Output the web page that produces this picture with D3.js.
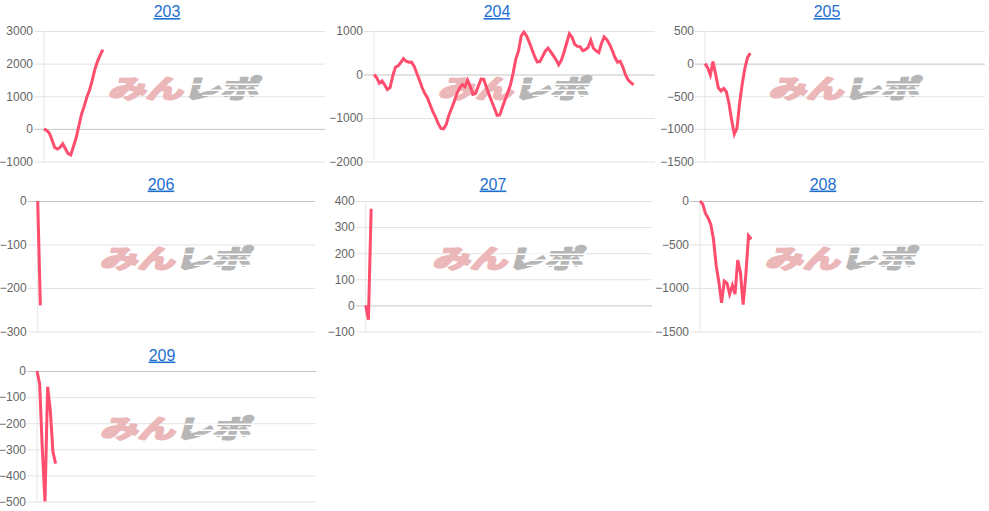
<!DOCTYPE html>
<html>
<head>
<meta charset="utf-8">
<script src="https://cdn.jsdelivr.net/npm/d3@7"></script>
<style>
  body { margin: 0; background: #fff; }
  svg { display: block; font-family: Arial, "Liberation Sans", sans-serif; }
</style>
</head>
<body>
<div id="chart"></div>
<script>
// cumulative balance per game, one list per machine
const v203 = [0, -50, -130, -340, -570, -620, -570, -460, -610, -760, -800, -540, -280, 80, 440, 690, 970, 1180, 1480, 1820, 2070, 2260, 2430];
const v204 = [0, -73, -198, -149, -240, -347, -303, -38, 168, 198, 275, 366, 305, 282, 285, 189, 27, -130, -305, -437,
  -540, -702, -855, -977, -1130, -1240, -1248, -1145, -935, -775, -618, -435, -313, -234, -282, -130, -282, -455, -431, -263,
  -104, -107, -290, -463, -622, -776, -939, -931, -748, -578, -415, -237, 38, 359, 542, 885, 974, 889, 744, 580,
  415, 292, 298, 418, 536, 608, 527, 435, 341, 224, 326, 511, 725, 935, 855, 695, 646, 641, 547, 570,
  622, 786, 603, 544, 504, 714, 866, 803, 698, 557, 395, 285, 305, 168, -11, -130, -188, -235];
const v205 = [0, -62, -175, 30, -165, -370, -420, -380, -430, -610, -870, -1080, -990, -600, -300, -60, 100, 160];
const v206 = [0, -240];
const v207 = [0, -55, 370];
const v208 = [0, -35, -140, -195, -268, -440, -740, -930, -1170, -920, -945, -1070, -970, -1070, -680, -820, -1190, -850, -400, -440];
const v209 = [0, -50, -300, -500, -60, -150, -310, -355];

const ticks203 = [-1000, 0, 1000, 2000, 3000];
const ticks204 = [-2000, -1000, 0, 1000];
const ticks205 = [-1500, -1000, -500, 0, 500];
const ticks206 = [-300, -200, -100, 0];
const ticks207 = [-100, 0, 100, 200, 300, 400];
const ticks208 = [-1500, -1000, -500, 0];
const ticks209 = [-500, -400, -300, -200, -100, 0];

const titles = ["203", "204", "205", "206", "207", "208", "209"];
const X_MAX = 105;

const charts = [
  { title: titles[0], values: v203, ticks: ticks203 },
  { title: titles[1], values: v204, ticks: ticks204 },
  { title: titles[2], values: v205, ticks: ticks205 },
  { title: titles[3], values: v206, ticks: ticks206 },
  { title: titles[4], values: v207, ticks: ticks207 },
  { title: titles[5], values: v208, ticks: ticks208 },
  { title: titles[6], values: v209, ticks: ticks209 },
];

// panel placement
const layout = [
  { x0: 0,   y0: 0,   left: 44,   right: 325, titleX: 167, titleY: 17 },
  { x0: 330, y0: 0,   left: 44,   right: 325, titleX: 167, titleY: 17 },
  { x0: 660, y0: 0,   left: 45,   right: 325, titleX: 167, titleY: 17 },
  { x0: 0,   y0: 170, left: 37.7, right: 315, titleX: 161, titleY: 19.5 },
  { x0: 330, y0: 170, left: 35.7, right: 322, titleX: 163, titleY: 19.5 },
  { x0: 660, y0: 170, left: 40,   right: 323, titleX: 163, titleY: 19.5 },
  { x0: 0,   y0: 340, left: 37,   right: 316, titleX: 162, titleY: 20.5 },
];

const svg = d3.select("#chart").append("svg")
  .attr("width", 989)
  .attr("height", 511);

charts.forEach((c, i) => {
  const L = layout[i];
  const top = 31, bottom = 161.5;
  const g = svg.append("g").attr("transform", `translate(${L.x0},${L.y0})`);

  const x = d3.scaleLinear().domain([0, X_MAX]).range([L.left, L.right]);
  const y = d3.scaleLinear().domain(d3.extent(c.ticks)).range([bottom, top]);

  // title link
  g.append("text")
    .attr("x", L.titleX)
    .attr("y", L.titleY)
    .attr("text-anchor", "middle")
    .attr("fill", "#1e6fd0")
    .style("font-size", "16px")
    .style("text-decoration", "underline")
    .text(c.title);

  // y axis with gridlines
  const axis = g.append("g")
    .attr("transform", `translate(${L.left - 10},0)`)
    .call(d3.axisLeft(y)
      .tickValues(c.ticks)
      .tickFormat(d3.format("d"))
      .tickSizeInner(-(L.right - L.left + 10))
      .tickSizeOuter(0)
      .tickPadding(1));
  axis.select(".domain").remove();
  axis.selectAll(".tick line").attr("stroke", (d) => (d === 0 ? "#c4c4c4" : "#e3e3e3"));
  axis.selectAll(".tick text")
    .attr("fill", "#666")
    .style("font-size", "12px")
    .style("font-family", "Arial, 'Liberation Sans', sans-serif");

  g.append("line")
    .attr("x1", L.left).attr("x2", L.left)
    .attr("y1", top).attr("y2", bottom)
    .attr("stroke", "#e6e6e6");

  // watermark logo
  const wm = g.append("g")
    .attr("transform", `translate(${(L.left + L.right) / 2},${top + 56})`)
    .append("g")
    .attr("transform", "skewX(-14) scale(1.25,0.85)");
  const logoText = (txt, xPos, anchor, colour) => wm.append("text")
    .attr("x", xPos)
    .attr("text-anchor", anchor)
    .attr("dominant-baseline", "central")
    .attr("fill", colour)
    .attr("stroke", colour)
    .attr("stroke-width", 2.6)
    .attr("stroke-linejoin", "round")
    .style("font-family", "'Noto Sans CJK JP', sans-serif")
    .style("font-weight", "700")
    .style("font-size", "30px")
    .text(txt);
  logoText("みん", 1, "end", "#ebb7b9");
  logoText("レポ", 1, "start", "#b6b6b6");
  [-4, 3, 9].forEach((dy, k) => {
    wm.append("rect")
      .attr("x", 6 + k * 5)
      .attr("y", dy)
      .attr("width", 56 - k * 5)
      .attr("height", 1.6)
      .attr("fill", "#fff");
  });

  // balance line
  g.append("path")
    .datum(c.values)
    .attr("fill", "none")
    .attr("stroke", "#ff4d6d")
    .attr("stroke-width", 3)
    .attr("d", d3.line().x((d, j) => x(j)).y((d) => y(d)));
});
</script>
</body>
</html>
